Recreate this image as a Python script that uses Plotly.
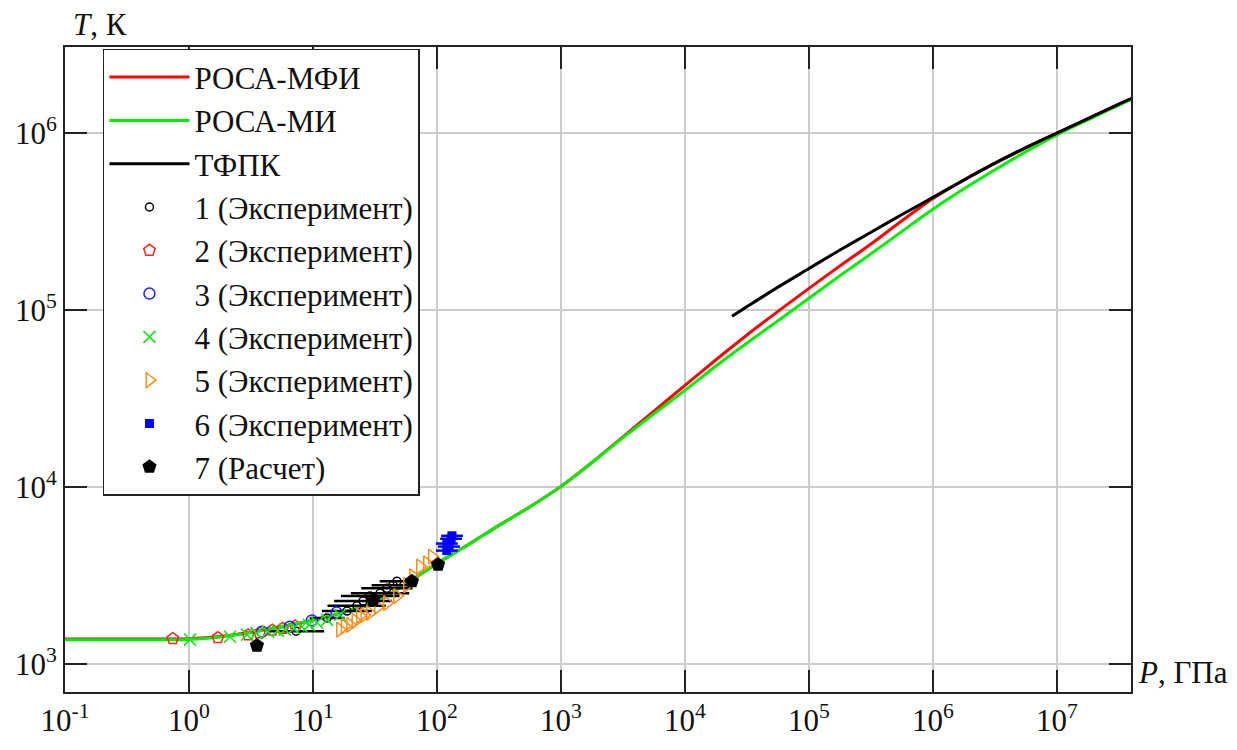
import plotly.graph_objects as go

# ---------------- model curves: pressure P (GPa) and temperature T (K) ----------------
p_model = [0.1, 0.316, 1, 1.78, 3.16, 5.62, 10, 17.8, 31.6, 56.2, 100, 178, 316, 562, 1000,
           1778, 3162, 5623, 1e4, 17783, 31623, 56234, 1e5, 177828, 316228, 562341, 1e6,
           1778279, 3162278, 5623413, 1e7, 17782794, 31622777, 39810717]
t_mfi = [1390, 1390, 1396, 1435, 1521, 1633, 1778, 1972, 2239, 2851, 3715, 4732, 6095, 7762,
         10116, 13804, 19275, 26915, 37584, 52481, 72444, 98401, 132739, 177828, 236592, 319890,
         426580, 543250, 676083, 827942, 1000000, 1207814, 1455459, 1566751]
t_mi = [1377, 1377, 1384, 1429, 1514, 1629, 1778, 1972, 2239, 2851, 3715, 4732, 6095, 7762,
        10116, 13804, 19055, 26002, 35237, 48417, 65313, 87096, 116681, 156675, 207970, 278612,
        371535, 484172, 620869, 785236, 977237, 1188502, 1438799, 1548817]

p_tfpk = [23933, 31623, 56234, 1e5, 177828, 316228, 562341, 1e6, 1778279, 3162278,
          5623413, 1e7, 17782794, 31622777, 39810717]
t_tfpk = [92470, 104713, 134896, 171791, 218776, 275423, 346737, 433511, 543250, 676083,
          827942, 1000000, 1207814, 1455459, 1566751]

# ---------------- experimental / calculated points ----------------
p1 = [7.3, 13.0, 18.8, 22.6, 25.3, 28.8, 34.7, 39.5, 44.2, 47.5]
t1 = [1540, 1830, 2000, 2140, 2280, 2430, 2520, 2690, 2800, 2950]
p1_err_plus = [5.0, 5.0, 11.0, 16.0, 18.0, 21.0, 25.0, 24.0, 21.0, 17.0]
p1_err_minus = [3.0, 3.6, 7.0, 9.5, 10.5, 12.0, 14.5, 15.0, 14.5, 13.0]

p2 = [0.74, 1.71, 3.0, 3.7, 4.7, 5.7, 7.2]
t2 = [1397, 1415, 1465, 1505, 1560, 1595, 1650]

p3 = [3.9, 6.5, 9.8, 15.5]
t3 = [1530, 1630, 1770, 1960]

p4 = [1.02, 2.14, 2.94, 3.5, 4.34, 5.2, 5.94, 7.0, 8.15, 9.3, 10.8, 13.0, 16.5]
t4 = [1380, 1432, 1472, 1500, 1528, 1550, 1570, 1600, 1632, 1670, 1718, 1783, 1900]

p5 = [16.5, 18, 19.9, 22, 23.9, 26, 28.8, 33.4, 39.5, 47.6, 57.3, 64, 73, 83, 91]
t5 = [1570, 1640, 1670, 1760, 1880, 1900, 1950, 2110, 2220, 2430, 2800, 3140, 3570, 3715, 4065]

p6 = [132, 130, 120, 125, 120]
t6 = [5320, 5120, 4810, 4625, 4390]
p6_err_plus = [30, 29, 27, 28, 27]
p6_err_minus = [24, 24, 22, 23, 22]

p7 = [3.53, 30.5, 62.8, 102]
t7 = [1277, 2305, 2945, 3660]

# ---------------- axis ticks ----------------
x_tick_vals = [0.1, 1, 10, 100, 1e3, 1e4, 1e5, 1e6, 1e7]
x_tick_text = ["10<sup>-1</sup>", "10<sup>0</sup>", "10<sup>1</sup>", "10<sup>2</sup>", "10<sup>3</sup>",
               "10<sup>4</sup>", "10<sup>5</sup>", "10<sup>6</sup>", "10<sup>7</sup>"]
y_tick_vals = [1e3, 1e4, 1e5, 1e6]
y_tick_text = ["10<sup>3</sup>", "10<sup>4</sup>", "10<sup>5</sup>", "10<sup>6</sup>"]

SERIF = "Liberation Serif, Times New Roman, serif"

fig = go.Figure()

# model curves
fig.add_trace(go.Scatter(x=p_model, y=t_mfi, mode="lines", name="РОСА-МФИ",
                         line=dict(color="#ff0000", width=3, shape="spline", smoothing=0.8),
                         legendgroup="a"))
fig.add_trace(go.Scatter(x=p_model, y=t_mi, mode="lines", name="РОСА-МИ",
                         line=dict(color="#00ee00", width=3, shape="spline", smoothing=0.8),
                         legendgroup="b"))
fig.add_trace(go.Scatter(x=p_tfpk, y=t_tfpk, mode="lines", name="ТФПК",
                         line=dict(color="#000000", width=3, shape="spline", smoothing=0.8),
                         legendgroup="c"))

# measured and computed points
fig.add_trace(go.Scatter(x=p1, y=t1, mode="markers", name="1 (Эксперимент)",
                         marker=dict(symbol="circle-open", size=8, color="#000000", line=dict(width=1.5)),
                         error_x=dict(type="data", array=p1_err_plus, arrayminus=p1_err_minus,
                                      color="#000000", thickness=2.5, width=0),
                         legendgroup="d"))
fig.add_trace(go.Scatter(x=p2, y=t2, mode="markers", name="2 (Эксперимент)",
                         marker=dict(symbol="pentagon-open", size=12, color="#ff2020", line=dict(width=1.5)),
                         legendgroup="e"))
fig.add_trace(go.Scatter(x=p3, y=t3, mode="markers", name="3 (Эксперимент)",
                         marker=dict(symbol="circle-open", size=11, color="#2020ff", line=dict(width=1.5)),
                         legendgroup="f"))
fig.add_trace(go.Scatter(x=p4, y=t4, mode="markers", name="4 (Эксперимент)",
                         marker=dict(symbol="x-thin-open", size=12, color="#22dd22", line=dict(width=1.6)),
                         legendgroup="g"))
fig.add_trace(go.Scatter(x=p5, y=t5, mode="markers", name="5 (Эксперимент)",
                         marker=dict(symbol="triangle-right-open", size=13, color="#ff8c1a", line=dict(width=1.5)),
                         legendgroup="h"))
fig.add_trace(go.Scatter(x=p6, y=t6, mode="markers", name="6 (Эксперимент)",
                         marker=dict(symbol="square", size=9, color="#0000ff"),
                         error_x=dict(type="data", array=p6_err_plus, arrayminus=p6_err_minus,
                                      color="#0000ff", thickness=2.5, width=0),
                         legendgroup="i"))
fig.add_trace(go.Scatter(x=p7, y=t7, mode="markers", name="7 (Расчет)",
                         marker=dict(symbol="pentagon", size=15, color="#000000"),
                         legendgroup="j"))

axis_common = dict(
    type="log",
    showgrid=True, gridcolor="#cccccc", gridwidth=2,
    showline=True, linecolor="#222222", linewidth=2, mirror="ticks",
    ticks="inside", ticklen=22, tickwidth=2, tickcolor="#222222",
    tickfont=dict(family=SERIF, size=31, color="#111111"),
    zeroline=False,
)

fig.update_xaxes(range=[-1, 7.597], tickvals=x_tick_vals, ticktext=x_tick_text, **axis_common)
fig.update_yaxes(range=[2.844, 6.486], tickvals=y_tick_vals, ticktext=y_tick_text, **axis_common)

fig.update_layout(
    width=1237, height=750,
    margin=dict(l=65, r=106, t=47, b=50),
    paper_bgcolor="white", plot_bgcolor="white",
    showlegend=True,
    legend=dict(
        x=0.0356, y=0.997, xanchor="left", yanchor="top",
        bgcolor="white", bordercolor="#222222", borderwidth=1.5,
        font=dict(family=SERIF, size=31, color="#111111"),
        tracegroupgap=0, itemwidth=80,
        traceorder="normal",
    ),
    annotations=[
        dict(text="<i>T</i>, К", xref="paper", yref="paper", x=0.006, y=1.035,
             xanchor="left", yanchor="middle", showarrow=False,
             font=dict(family=SERIF, size=31, color="#111111")),
        dict(text="<i>P</i>, ГПа", xref="paper", yref="paper", x=1.005, y=0.03,
             xanchor="left", yanchor="middle", showarrow=False,
             font=dict(family=SERIF, size=31, color="#111111")),
    ],
)

fig.write_html("out.html")
